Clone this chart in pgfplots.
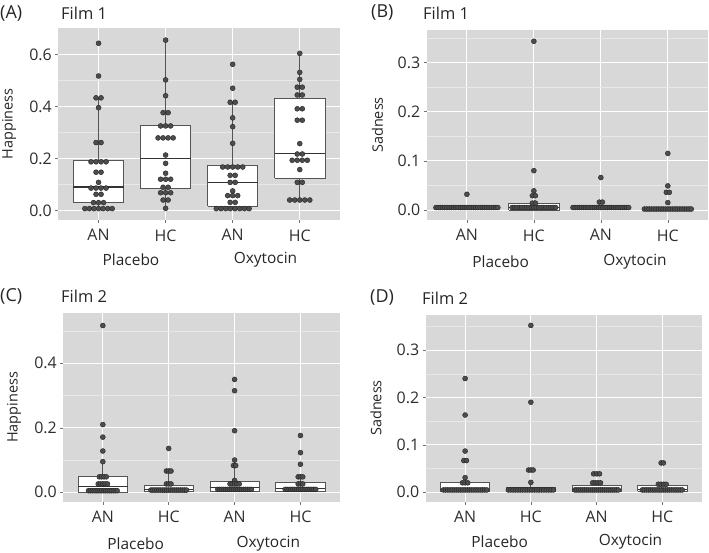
\documentclass[border=0pt]{standalone}
\usepackage{fontspec}
\setmainfont{Open Sans}
\usepackage{pgfplots}
\pgfplotsset{compat=1.18}
\definecolor{panelbg}{HTML}{D8D8D8}
\definecolor{minorgrid}{HTML}{E8E8E8}
\definecolor{boxline}{HTML}{555555}
\definecolor{dotfill}{HTML}{4D4D4D}
\definecolor{dotedge}{HTML}{222222}
\definecolor{ticktext}{HTML}{2E2E2E}

% rows of a dot plot: centre / value / number of dots / horizontal step
\newcommand{\dotrows}[1]{%
  \gdef\dotlist{}%
  \foreach \dc/\dy/\dn/\ds in {#1}{%
    \foreach \di in {1,...,\dn}{%
      \pgfmathsetmacro\xx{\dc+(\di-(\dn+1)/2)*\ds}%
      \xdef\dotlist{\dotlist(\xx,\dy)}%
    }%
  }%
  \edef\tmp{\noexpand\addplot[dots] coordinates {\dotlist};}\tmp
}
% box: left / centre / right / lower whisker / Q1 / median / Q3 / upper whisker
\newcommand{\bxp}[8]{%
  \addplot[draw=boxline, line width=0.7bp] coordinates {(#2,#4) (#2,#5)};
  \addplot[draw=boxline, line width=0.7bp] coordinates {(#2,#7) (#2,#8)};
  \addplot[draw=boxline, fill=white, line width=0.7bp] coordinates {(#1,#5) (#3,#5) (#3,#7) (#1,#7) (#1,#5)};
  \addplot[draw=black!80, line width=1.1bp] coordinates {(#1,#6) (#3,#6)};
}

\pgfplotsset{
  panel/.style={
    scale only axis, xmin=0.4, xmax=4.6,
    xtick={1,2,3,4}, xticklabels={AN,HC,AN,HC},
    axis background/.style={fill=panelbg},
    axis line style={draw=none},
    grid=both,
    major grid style={draw=white, line width=0.9bp},
    minor grid style={draw=minorgrid, line width=0.45bp},
    xtick pos=lower, ytick pos=left, tick align=outside,
    major tick length=3bp, minor tick length=0pt,
    tick style={draw=black!55, line width=0.6bp},
    ticklabel style={font=\fontsize{16}{18}\selectfont, text=ticktext},
    xticklabel style={yshift=-3bp},
    /pgf/number format/assume math mode=true,
    yticklabel style={/pgf/number format/.cd, fixed, fixed zerofill, precision=1},
  },
  dots/.style={only marks, mark=*, mark size=2.5bp,
    mark options={fill=dotfill, draw=dotedge, line width=0.4bp}},
}

\begin{document}
\begin{tikzpicture}
\useasboundingbox (0,0) rectangle (709bp,553bp);

% ---------------- (A) Film 1, Happiness
\begin{axis}[panel, at={(58.3bp,333bp)}, anchor=south west,
  width=281.7bp, height=191.7bp, ymin=-0.0358, ymax=0.7015,
  ytick={0,0.2,0.4,0.6}, minor ytick={0.1,0.3,0.5}]
\bxp{0.625}{1}{1.375}{0.008}{0.031}{0.091}{0.192}{0.435}
\bxp{1.625}{2}{2.375}{0.009}{0.086}{0.199}{0.327}{0.656}
\bxp{2.625}{3}{3.375}{0.008}{0.018}{0.107}{0.176}{0.417}
\bxp{3.625}{4}{4.375}{0.041}{0.126}{0.219}{0.432}{0.605}
\dotrows{1/0.644/1/0, 1/0.518/1/0, 1/0.434/2/0.075, 1/0.396/1/0, 1/0.262/2/0.075, 1/0.188/4/0.075, 1/0.148/2/0.075, 1/0.109/1/0, 1/0.087/4/0.075, 1/0.063/2/0.075, 1/0.031/3/0.075, 1/0.008/7/0.068,
2/0.656/1/0, 2/0.503/1/0, 2/0.442/1/0, 2/0.377/2/0.075, 2/0.326/3/0.075, 2/0.280/4/0.075, 2/0.214/1/0, 2/0.182/1/0, 2/0.144/1/0, 2/0.121/3/0.075, 2/0.090/2/0.075, 2/0.069/3/0.075, 2/0.041/2/0.075, 2/0.009/1/0,
3/0.563/1/0, 3/0.471/1/0, 3/0.417/2/0.075, 3/0.357/1/0, 3/0.323/1/0, 3/0.259/1/0, 3/0.168/5/0.075, 3/0.136/2/0.075, 3/0.109/2/0.075, 3/0.076/1/0, 3/0.058/3/0.075, 3/0.032/2/0.075, 3/0.008/8/0.07,
4/0.605/1/0, 4/0.532/1/0, 4/0.505/1/0, 4/0.475/2/0.075, 4/0.445/2/0.075, 4/0.392/2/0.075, 4/0.348/2/0.075, 4/0.258/1/0, 4/0.218/2/0.075, 4/0.194/4/0.075, 4/0.158/1/0, 4/0.109/2/0.075, 4/0.041/5/0.075}
\end{axis}

% ---------------- (B) Film 1, Sadness
\begin{axis}[panel, at={(426.7bp,333bp)}, anchor=south west,
  width=281.3bp, height=190bp, ymin=-0.0203, ymax=0.3659,
  ytick={0,0.1,0.2,0.3}, minor ytick={0.05,0.15,0.25,0.35}]
\bxp{0.625}{1}{1.375}{0.005}{0.005}{0.005}{0.005}{0.010}
\bxp{1.625}{2}{2.375}{0.000}{0.000}{0.005}{0.013}{0.020}
\bxp{2.625}{3}{3.375}{0.005}{0.005}{0.005}{0.005}{0.010}
\bxp{3.625}{4}{4.375}{0.002}{0.002}{0.002}{0.002}{0.002}
\dotrows{1/0.032/1/0, 1/0.005/29/0.033,
2/0.343/1/0, 2/0.080/1/0, 2/0.039/1/0, 2/0.029/2/0.045, 2/0.014/2/0.045, 2/0.005/19/0.036,
3/0.066/1/0, 3/0.016/2/0.045, 3/0.005/27/0.032,
4/0.115/1/0, 4/0.049/1/0, 4/0.036/2/0.045, 4/0.015/1/0, 4/0.002/21/0.035}
\end{axis}

% ---------------- (C) Film 2, Happiness
\begin{axis}[panel, at={(63.3bp,51.3bp)}, anchor=south west,
  width=276.7bp, height=188.4bp, ymin=-0.0291, ymax=0.555,
  ytick={0,0.2,0.4}, minor ytick={0.1,0.3,0.5}]
\bxp{0.625}{1}{1.375}{0.000}{0.000}{0.017}{0.048}{0.095}
\bxp{1.625}{2}{2.375}{0.002}{0.002}{0.010}{0.021}{0.066}
\bxp{2.625}{3}{3.375}{0.002}{0.002}{0.014}{0.033}{0.100}
\bxp{3.625}{4}{4.375}{0.002}{0.002}{0.012}{0.031}{0.048}
\dotrows{1/0.517/1/0, 1/0.210/1/0, 1/0.171/1/0, 1/0.128/1/0, 1/0.095/1/0, 1/0.048/4/0.035, 1/0.026/5/0.035, 1/0.005/16/0.029,
2/0.136/1/0, 2/0.066/3/0.035, 2/0.026/3/0.035, 2/0.007/19/0.030,
3/0.350/1/0, 3/0.315/1/0, 3/0.191/1/0, 3/0.100/1/0, 3/0.083/2/0.035, 3/0.037/1/0, 3/0.026/5/0.035, 3/0.009/18/0.030,
4/0.176/1/0, 4/0.123/1/0, 4/0.087/1/0, 4/0.048/3/0.035, 4/0.026/3/0.035, 4/0.009/17/0.029}
\end{axis}

% ---------------- (D) Film 2, Sadness
\begin{axis}[panel, at={(425.7bp,51.3bp)}, anchor=south west,
  width=276bp, height=186.7bp, ymin=-0.0198, ymax=0.374,
  ytick={0,0.1,0.2,0.3}, minor ytick={0.05,0.15,0.25,0.35}]
\bxp{0.625}{1}{1.375}{0.002}{0.002}{0.005}{0.020}{0.031}
\bxp{1.625}{2}{2.375}{0.002}{0.002}{0.005}{0.010}{0.021}
\bxp{2.625}{3}{3.375}{0.003}{0.003}{0.005}{0.014}{0.020}
\bxp{3.625}{4}{4.375}{0.003}{0.003}{0.005}{0.014}{0.017}
\dotrows{1/0.240/1/0, 1/0.163/1/0, 1/0.087/1/0, 1/0.067/2/0.04, 1/0.031/1/0, 1/0.020/3/0.04, 1/0.005/21/0.033,
2/0.352/1/0, 2/0.190/1/0, 2/0.047/3/0.035, 2/0.021/1/0, 2/0.005/20/0.036,
3/0.039/3/0.045, 3/0.020/4/0.04, 3/0.005/23/0.030,
4/0.062/2/0.035, 4/0.017/4/0.04, 4/0.005/20/0.032}
\end{axis}

% ---------------- titles and labels
\begin{scope}[every node/.style={inner sep=0pt, text=black!85}]
\node[anchor=west, font=\fontsize{18}{21}\selectfont] at (0bp,540bp) {(A)};
\node[anchor=west, font=\fontsize{16.5}{19}\selectfont] at (61bp,540bp) {Film 1};
\node[anchor=west, font=\fontsize{18}{21}\selectfont] at (371bp,540bp) {(B)};
\node[anchor=west, font=\fontsize{16.5}{19}\selectfont] at (423bp,540bp) {Film 1};
\node[anchor=west, font=\fontsize{18}{21}\selectfont] at (0bp,257bp) {(C)};
\node[anchor=west, font=\fontsize{16.5}{19}\selectfont] at (61bp,257bp) {Film 2};
\node[anchor=west, font=\fontsize{18}{21}\selectfont] at (370bp,255bp) {(D)};
\node[anchor=west, font=\fontsize{16.5}{19}\selectfont] at (422bp,255bp) {Film 2};
\node[rotate=90, font=\fontsize{14.5}{17}\selectfont] at (9bp,429bp) {Happiness};
\node[rotate=90, font=\fontsize{14.5}{17}\selectfont] at (377.5bp,428bp) {Sadness};
\node[rotate=90, font=\fontsize{14.5}{17}\selectfont] at (14bp,145.5bp) {Happiness};
\node[rotate=90, font=\fontsize{14.5}{17}\selectfont] at (376bp,145bp) {Sadness};
\node[font=\fontsize{15.5}{18}\selectfont] at (131bp,293bp) {Placebo};
\node[font=\fontsize{15.5}{18}\selectfont] at (265.5bp,293bp) {Oxytocin};
\node[font=\fontsize{15.5}{18}\selectfont] at (500.7bp,291.3bp) {Placebo};
\node[font=\fontsize{15.5}{18}\selectfont] at (635bp,291.3bp) {Oxytocin};
\node[font=\fontsize{15.5}{18}\selectfont] at (135.7bp,9.7bp) {Placebo};
\node[font=\fontsize{15.5}{18}\selectfont] at (268.3bp,9.7bp) {Oxytocin};
\node[font=\fontsize{15.5}{18}\selectfont] at (499.7bp,11.3bp) {Placebo};
\node[font=\fontsize{15.5}{18}\selectfont] at (630.5bp,11.3bp) {Oxytocin};
\end{scope}
\end{tikzpicture}
\end{document}
